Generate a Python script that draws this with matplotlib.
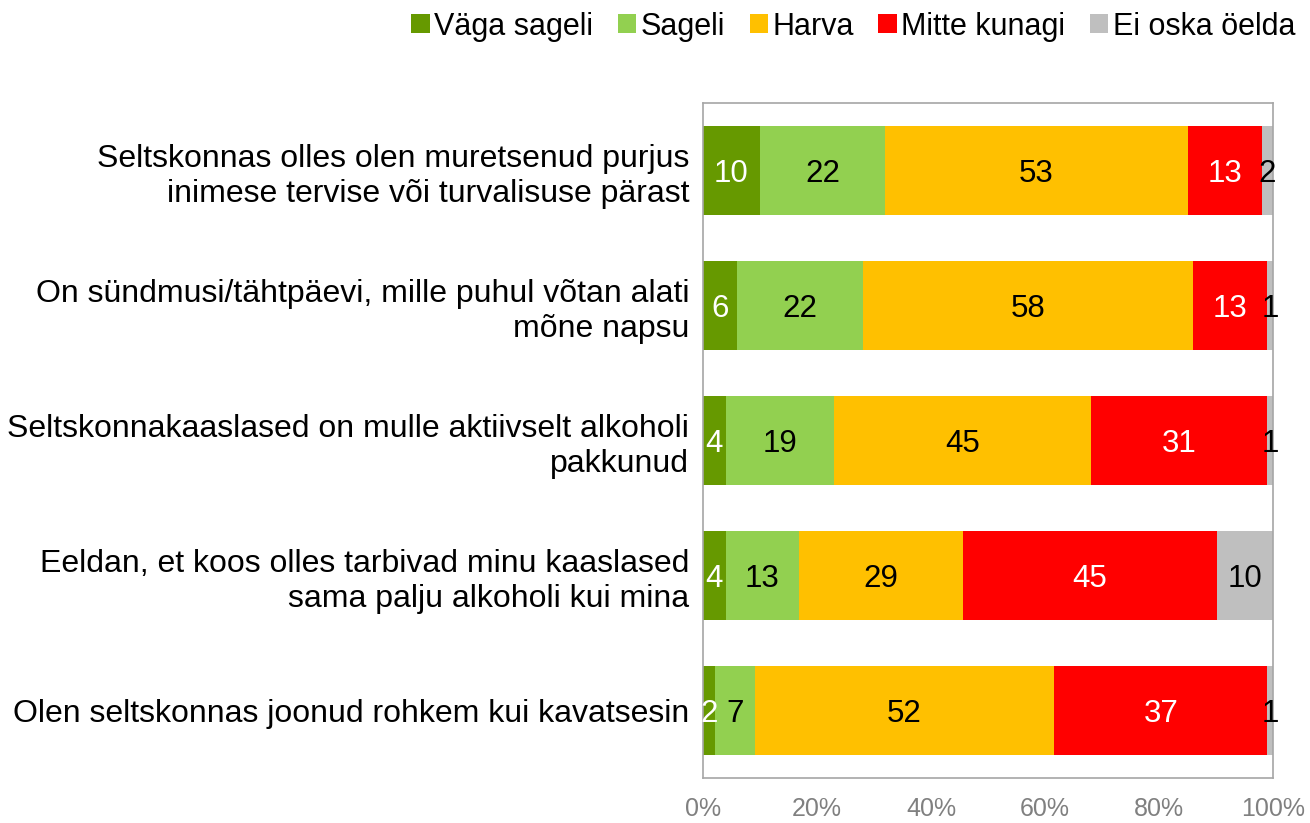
import numpy as np
import matplotlib.pyplot as plt

plt.rcParams['font.family'] = ['Liberation Sans', 'DejaVu Sans']

categories = ['Seltskonnas olles olen muretsenud purjus\ninimese tervise või turvalisuse pärast',
              'On sündmusi/tähtpäevi, mille puhul võtan alati\nmõne napsu',
              'Seltskonnakaaslased on mulle aktiivselt alkoholi\npakkunud',
              'Eeldan, et koos olles tarbivad minu kaaslased\nsama palju alkoholi kui mina',
              'Olen seltskonnas joonud rohkem kui kavatsesin']
series_names = ['Väga sageli', 'Sageli', 'Harva', 'Mitte kunagi', 'Ei oska öelda']
vaga_sageli = [10, 6, 4, 4, 2]
sageli = [22, 22, 19, 13, 7]
harva = [53, 58, 45, 29, 52]
mitte_kunagi = [13, 13, 31, 45, 37]
ei_oska = [2, 1, 1, 10, 1]

colors = ['#669900', '#92D050', '#FFC000', '#FF0000', '#BFBFBF']
text_colors = ['white', 'black', 'black', 'white', 'black']

data = np.array([vaga_sageli, sageli, harva, mitte_kunagi, ei_oska], dtype=float)
pct = data / data.sum(axis=0) * 100  # 100% stacked

fig = plt.figure(figsize=(13.1, 8.23), dpi=100)
ax = fig.add_axes([703/1310, 45/823, 570/1310, 675/823])

y = np.arange(len(categories))
left = np.zeros(len(categories))
for i in range(len(series_names)):
    bars = ax.barh(y, pct[i], left=left, height=0.665, color=colors[i],
                   label=series_names[i], edgecolor='none')
    for j, b in enumerate(bars):
        ax.text(left[j] + pct[i][j] / 2, y[j], '%d' % data[i][j], ha='center',
                va='center_baseline', fontsize=22.5, color=text_colors[i])
    left += pct[i]

ax.set_xlim(0, 100)
ax.set_ylim(len(categories) - 0.5, -0.5)
ax.set_yticks(y)
ax.set_yticklabels(categories, fontsize=23)
ax.set_xticks(np.arange(0, 101, 20))
ax.set_xticklabels(['%d%%' % v for v in range(0, 101, 20)], fontsize=18, color='#808080')
ax.tick_params(axis='both', length=0)
ax.tick_params(axis='y', pad=10)
ax.tick_params(axis='x', pad=14)
for s in ax.spines.values():
    s.set_color('#A6A6A6')
    s.set_linewidth(1.2)

fig.legend(loc='upper right', bbox_to_anchor=(1.005, 1.012), ncol=5, frameon=False,
           fontsize=22, handlelength=0.6, handleheight=0.6, handletextpad=0.15,
           columnspacing=0.8, borderaxespad=0.3)

plt.savefig('out.png', dpi=100)
